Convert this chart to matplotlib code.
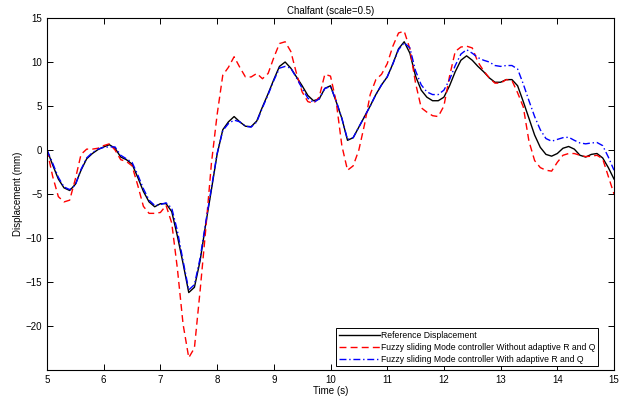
import numpy as np
import matplotlib
matplotlib.use("Agg")
import matplotlib.pyplot as plt

plt.rcParams['font.family'] = ['Liberation Sans', 'DejaVu Sans']

time_s = [round(5.0 + 0.1 * i, 1) for i in range(101)]

reference = [0.0, -1.7, -3.3, -4.3, -4.6, -3.9, -2.3, -1.0, -0.4, 0.05,
             0.35, 0.6, 0.2, -0.8, -1.1, -1.6, -3.1, -4.7, -5.9, -6.45,
             -6.1, -6.1, -7.0, -9.8, -12.9, -16.2, -15.6, -12.6, -8.4, -4.5,
             -0.5, 2.3, 3.2, 3.8, 3.2, 2.7, 2.65, 3.3, 4.9, 6.4,
             8.0, 9.5, 10.0, 9.3, 8.3, 7.3, 6.2, 5.6, 5.8, 7.0,
             7.3, 5.5, 3.6, 1.1, 1.4, 2.6, 3.8, 5.0, 6.3, 7.4,
             8.3, 9.8, 11.5, 12.3, 11.0, 8.4, 6.8, 6.0, 5.6, 5.6,
             6.0, 7.3, 8.9, 10.2, 10.7, 10.2, 9.5, 8.9, 8.2, 7.7,
             7.7, 8.0, 8.0, 7.3, 5.5, 3.6, 1.7, 0.3, -0.5, -0.7,
             -0.4, 0.2, 0.4, 0.1, -0.6, -0.8, -0.5, -0.4, -0.9, -2.0,
             -3.3]

without_adaptive = [0.0, -3.0, -5.3, -5.9, -5.7, -3.3, -0.5, 0.1, 0.1, 0.2,
                    0.5, 0.7, 0.0, -1.1, -1.3, -1.8, -4.0, -6.4, -7.2, -7.2,
                    -7.1, -6.3, -8.3, -13.5, -19.8, -23.6, -22.5, -16.0, -9.0, -1.5,
                    4.0, 8.5, 9.4, 10.6, 9.4, 8.3, 8.3, 8.7, 8.1, 8.7,
                    10.5, 12.1, 12.3, 11.2, 8.7, 6.6, 5.5, 5.3, 6.0, 8.6,
                    8.4, 5.5, 0.5, -2.3, -1.8, 0.0, 2.9, 6.3, 8.0, 8.6,
                    9.8, 11.8, 13.3, 13.5, 11.5, 7.6, 4.8, 4.3, 3.9, 3.8,
                    5.0, 8.4, 11.2, 11.7, 11.8, 11.6, 10.0, 9.0, 8.2, 7.6,
                    7.6, 8.0, 7.9, 6.5, 4.9, 1.0, -1.2, -2.0, -2.3, -2.4,
                    -1.4, -0.6, -0.4, -0.4, -0.6, -0.75, -0.7, -0.6, -1.0, -3.0,
                    -5.0]

with_adaptive = [0.0, -1.5, -3.1, -4.2, -4.5, -4.0, -2.2, -0.9, -0.3, 0.1,
                 0.3, 0.35, 0.35, -0.6, -1.0, -1.4, -2.8, -4.4, -5.7, -6.3,
                 -6.2, -6.0, -6.6, -9.2, -12.6, -15.9, -15.3, -12.3, -8.2, -4.3,
                 -0.4, 2.2, 3.0, 3.4, 3.2, 2.7, 2.6, 3.2, 4.8, 6.3,
                 7.9, 9.3, 9.5, 9.3, 8.2, 7.0, 5.9, 5.4, 5.8, 7.0,
                 7.2, 5.6, 3.6, 1.2, 1.4, 2.6, 3.8, 5.0, 6.3, 7.4,
                 8.3, 9.8, 11.4, 12.2, 11.6, 9.0, 7.4, 6.6, 6.3, 6.3,
                 6.8, 8.0, 9.6, 10.9, 11.4, 11.0, 10.5, 10.2, 10.0, 9.6,
                 9.5, 9.6, 9.6, 9.2, 7.5, 5.6, 3.8, 2.3, 1.3, 1.0,
                 1.2, 1.4, 1.45, 1.1, 0.8, 0.7, 0.8, 0.85, 0.5, -0.8,
                 -2.3]

labels = ["Reference Displacement",
          "Fuzzy sliding Mode controller Without adaptive R and Q",
          "Fuzzy sliding Mode controller With adaptive R and Q"]

fig = plt.figure(figsize=(6.21, 3.99), dpi=100)
ax = fig.add_axes([47/621, 29/399, 567/621, 352/399])

ax.plot(time_s, reference, color='black', lw=1.0, label=labels[0])
ax.plot(time_s, without_adaptive, color='red', lw=1.0, ls=(0, (5, 3)), label=labels[1])
ax.plot(time_s, with_adaptive, color='blue', lw=1.0, ls=(0, (5, 2, 1, 2)), label=labels[2])

ax.set_xlim(5, 15)
ax.set_ylim(-25, 15)
ax.set_xticks(range(5, 16))
ax.set_yticks(range(-20, 16, 5))
ax.tick_params(direction='in', top=True, right=True, length=4, width=0.7, labelsize=7)
for s in ax.spines.values():
    s.set_linewidth(0.8)

ax.set_title("Chalfant (scale=0.5)", fontsize=7, pad=3)
ax.set_xlabel("Time (s)", fontsize=7, labelpad=1)
ax.set_ylabel("Displacement (mm)", fontsize=7, labelpad=2)

leg = ax.legend(loc='lower right', bbox_to_anchor=(0.972, 0.011), fontsize=6.2,
                frameon=True, fancybox=False, edgecolor='black', framealpha=1,
                handlelength=4.8, handletextpad=0.1, borderpad=0.3,
                labelspacing=0.35, borderaxespad=0)
leg.get_frame().set_linewidth(0.7)

fig.savefig("out.png", dpi=100)
